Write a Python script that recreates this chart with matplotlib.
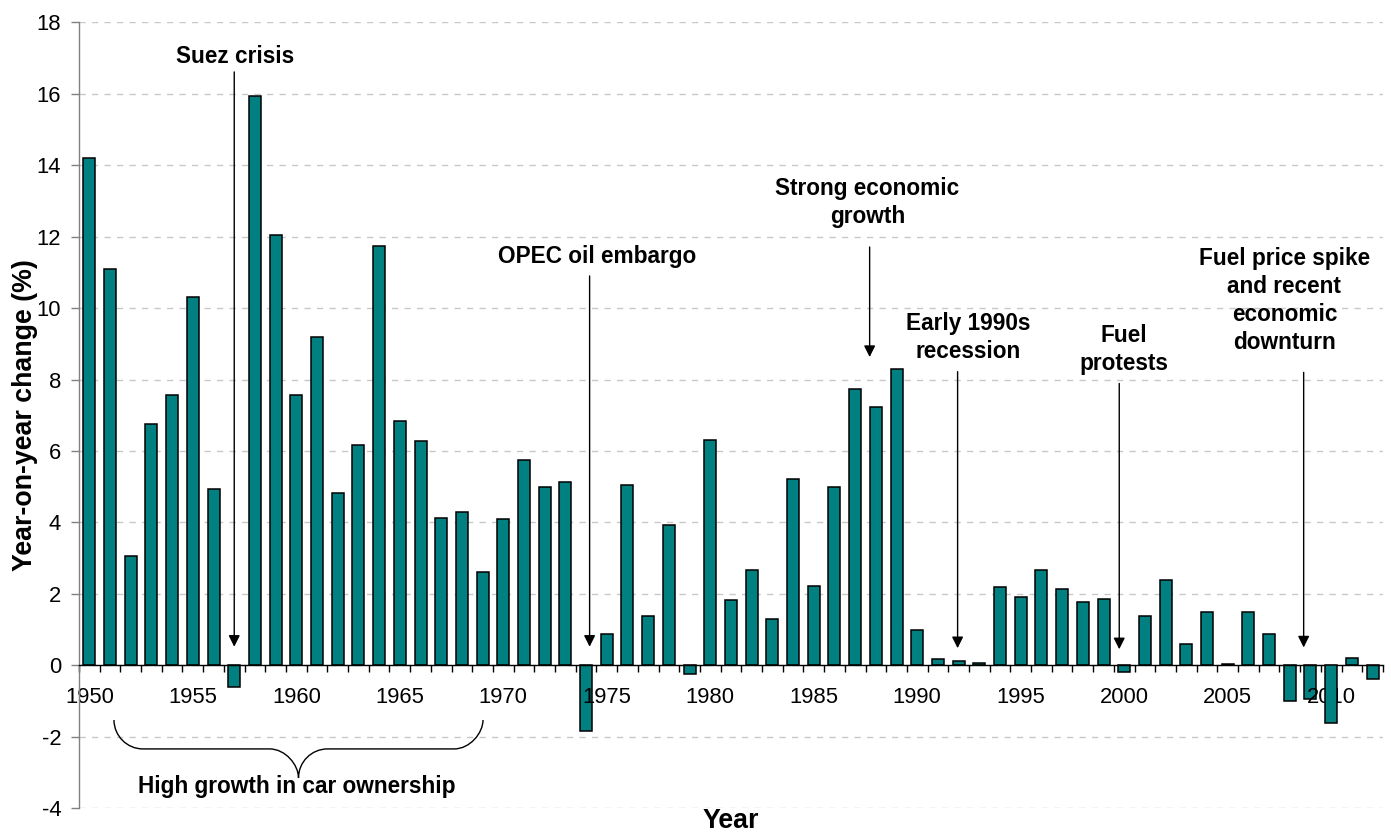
import matplotlib
matplotlib.use("Agg")
import matplotlib.pyplot as plt
from matplotlib.path import Path
from matplotlib.patches import PathPatch

plt.rcParams["font.family"] = ["Liberation Sans", "DejaVu Sans"]
plt.rcParams["axes.unicode_minus"] = False

# Year-on-year change in road traffic (%), 1950-2012
years = list(range(1950, 2013))
change_pct = [
    14.20, 11.10, 3.07, 6.76, 7.56, 10.32, 4.94, -0.62, 15.95, 12.04,
    7.58, 9.18, 4.81, 6.17, 11.75, 6.84, 6.27, 4.12, 4.28, 2.61,
    4.10, 5.74, 5.00, 5.13, -1.84, 0.87, 5.05, 1.39, 3.94, -0.23,
    6.30, 1.84, 2.67, 1.30, 5.21, 2.21, 5.00, 7.73, 7.22, 8.30,
    0.98, 0.18, 0.12, 0.06, 2.20, 1.92, 2.68, 2.13, 1.76, 1.86,
    -0.18, 1.37, 2.39, 0.61, 1.48, 0.03, 1.48, 0.88, -1.00, -0.93,
    -1.61, 0.21, -0.38,
]
label_years = list(range(1950, 2011, 5))
y_ticks = list(range(-4, 19, 2))

event_labels = [
    "Suez crisis",
    "OPEC oil embargo",
    "Strong economic\ngrowth",
    "Early 1990s\nrecession",
    "Fuel\nprotests",
    "Fuel price spike\nand recent\neconomic\ndownturn",
]
brace_label = "High growth in car ownership"

fig = plt.figure(figsize=(13.91, 8.34), dpi=100)
ax = fig.add_axes([0.0568, 0.0309, 0.9374, 0.9424])

ax.set_xlim(1949.5, 2012.5)
ax.set_ylim(-4, 18)

# dashed horizontal gridlines behind the bars
for v in y_ticks:
    ax.axhline(v, color="#c8c8c8", lw=1.0, dashes=(4.5, 4.5), zorder=0.5)

bars = ax.bar(years, change_pct, width=0.58, color="#008080",
              edgecolor="black", linewidth=1.1, zorder=1)
bars[years.index(2010)].set_zorder(3)

# axes styling
for side in ("top", "right"):
    ax.spines[side].set_visible(False)
ax.spines["left"].set_color("#808080")
ax.spines["left"].set_linewidth(1.0)
ax.spines["bottom"].set_position(("data", 0))
ax.spines["bottom"].set_color("black")
ax.spines["bottom"].set_linewidth(1.0)

ax.set_yticks(y_ticks)
ax.set_yticklabels([str(v) for v in y_ticks])
ax.tick_params(axis="y", direction="out", length=5.8, width=1.0,
               color="#808080", pad=7, labelsize=15.8)

ax.set_xticks(label_years)
ax.set_xticklabels([str(y) for y in label_years])
ax.set_xticks([y - 0.5 for y in years] + [years[-1] + 0.5], minor=True)
ax.tick_params(axis="x", which="major", length=0, pad=15.3, labelsize=15.8)
ax.tick_params(axis="x", which="minor", direction="out", length=5,
               width=1.0, color="black")

fig.text(0.018, 0.5024, "Year-on-year change (%)", rotation=90,
         ha="center", va="center", fontsize=19.3, fontweight="bold")
fig.text(0.5255, 0.0, "Year", ha="center", va="bottom",
         fontsize=19.3, fontweight="bold")

# event annotations: text position, arrow x, arrow start and tip
event_layout = [
    ((1957.04, 17.03), 1957.0, 16.61, 0.52),
    ((1974.55, 11.43), 1974.17, 10.90, 0.52),
    ((1987.60, 12.96), 1987.70, 11.71, 8.63),
    ((1992.44, 9.18), 1991.95, 8.22, 0.48),
    ((1999.98, 8.85), 1999.76, 7.89, 0.45),
    ((2007.74, 10.20), 2008.67, 8.20, 0.50),
]
for label, (txy, ax_x, y0, y1) in zip(event_labels, event_layout):
    ax.text(txy[0], txy[1], label, ha="center", va="center",
            multialignment="center", fontsize=16.3, fontweight="bold",
            linespacing=1.28, zorder=5)
    ax.annotate("", xy=(ax_x, y1), xytext=(ax_x, y0),
                arrowprops=dict(arrowstyle="-|>", color="black", lw=1.0,
                                mutation_scale=17, shrinkA=0, shrinkB=0),
                zorder=5)

# curly brace under the 1950s-60s
xl, xr = 1951.19, 1969.02
xm = (xl + xr) / 2
yt, ym, yb = -1.53, -2.34, -3.15
r = 1.4
k = 0.55
verts = [
    (xl, yt), (xl, yt + k * (ym - yt)), (xl + r * (1 - k), ym), (xl + r, ym),
    (xm - r, ym),
    (xm - r * (1 - k), ym), (xm, ym + k * (yb - ym)), (xm, yb),
    (xm, yb - k * (yb - ym)), (xm + r * (1 - k), ym), (xm + r, ym),
    (xr - r, ym),
    (xr - r * (1 - k), ym), (xr, ym - k * (ym - yt)), (xr, yt),
]
codes = ([Path.MOVETO] + [Path.CURVE4] * 3 + [Path.LINETO]
         + [Path.CURVE4] * 3 + [Path.CURVE4] * 3 + [Path.LINETO]
         + [Path.CURVE4] * 3)
ax.add_patch(PathPatch(Path(verts, codes), facecolor="none",
                       edgecolor="black", lw=1.0, zorder=5))
ax.text(xm - 0.1, -3.38, brace_label, ha="center", va="center",
        fontsize=16.3, fontweight="bold", zorder=5)

fig.savefig("out.png", dpi=100)
